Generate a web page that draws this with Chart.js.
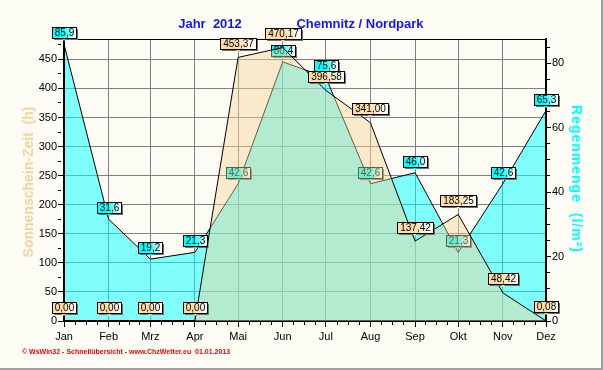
<!DOCTYPE html>
<html>
<head>
<meta charset="utf-8">
<script src="https://cdn.jsdelivr.net/npm/chart.js@4/dist/chart.umd.min.js"></script>
<style>
  html, body { margin: 0; padding: 0; background: #FCFBF4; }
  canvas { display: block; }
</style>
</head>
<body>
<canvas id="chart" width="603" height="370"></canvas>
<script>
// Data (2012, Chemnitz / Nordpark)
const YEAR = 2012;
const months = ['Jan', 'Feb', 'Mrz', 'Apr', 'Mai', 'Jun', 'Jul', 'Aug', 'Sep', 'Okt', 'Nov', 'Dez'];
const sunHours = [0.00, 0.00, 0.00, 0.00, 453.37, 470.17, 396.58, 341.00, 137.42, 183.25, 48.42, 0.08];
const rainMm = [85.9, 31.6, 19.2, 21.3, 42.6, 80.4, 75.6, 42.6, 46.0, 21.3, 42.6, 65.3];
const sunTicks = [0, 50, 100, 150, 200, 250, 300, 350, 400, 450];
const rainTicks = [0, 20, 40, 60, 80];

// x position of each month = day of year of the 1st
const monthDay = months.map((m, i) => (Date.UTC(YEAR, i, 1) - Date.UTC(YEAR, 0, 1)) / 86400000);

const FONT = '"Liberation Sans", Arial, sans-serif';
const RAIN = 0, SUN = 1;

Chart.defaults.font.family = FONT;
Chart.defaults.font.size = 11;
Chart.defaults.color = '#000';

function fmt(v, d) {
    return v.toFixed(d).replace('.', ',');
}

// value box with shadow and small pointer
function drawValueLabel(ctx, x, y, text, color, gap) {
    ctx.save();
    ctx.font = '10px ' + FONT;
    const w = Math.round(ctx.measureText(text).width + 5);
    const h = 11;
    const bx = Math.round(x - w / 2);
    const by = Math.round(y - gap - h);
    ctx.fillStyle = '#707070';
    ctx.fillRect(bx + 2, by + 2, w, h);
    const g = ctx.createLinearGradient(bx, 0, bx + w, 0);
    g.addColorStop(0, color);
    g.addColorStop(0.45, color);
    g.addColorStop(1, '#ffffff');
    ctx.fillStyle = color;
    ctx.beginPath();
    ctx.moveTo(bx + w / 2 - 3, by + h);
    ctx.lineTo(bx + w / 2, by + h + 3);
    ctx.lineTo(bx + w / 2 + 3, by + h);
    ctx.fill();
    ctx.fillStyle = g;
    ctx.fillRect(bx, by, w, h);
    ctx.strokeStyle = '#000';
    ctx.lineWidth = 1;
    ctx.strokeRect(bx + 0.5, by + 0.5, w, h);
    ctx.fillStyle = '#000';
    ctx.textAlign = 'center';
    ctx.textBaseline = 'middle';
    ctx.fillText(text, bx + w / 2 + 0.5, by + h / 2 + 1);
    ctx.restore();
}

function drawFrame(chart) {
    const ctx = chart.ctx, a = chart.chartArea;
    ctx.save();
    ctx.fillStyle = '#000';
    ctx.fillRect(a.left - 1, a.top, a.right - a.left + 2, 1);
    ctx.fillRect(a.left - 1, a.top, 2, a.bottom - a.top + 1);
    ctx.fillRect(a.right - 1, a.top, 2, a.bottom - a.top + 1);
    ctx.fillRect(a.left - 1, a.bottom - 1, a.right - a.left + 2, 2);
    ctx.restore();
}

const decorPlugin = {
    id: 'decor',
    beforeDraw(chart) {
        const ctx = chart.ctx;
        ctx.save();
        ctx.fillStyle = '#FCFBF4';
        ctx.fillRect(0, 0, chart.width, chart.height);
        ctx.fillStyle = '#A0A0A0';
        ctx.fillRect(chart.width - 2, 0, 2, chart.height);
        ctx.fillRect(0, chart.height - 2, chart.width, 2);
        ctx.restore();
    },
    afterDatasetDraw(chart, args) {
        const ctx = chart.ctx;
        const meta = chart.getDatasetMeta(args.index);
        if (args.index === RAIN) {
            drawFrame(chart);
            meta.data.forEach((p, i) => drawValueLabel(ctx, p.x, p.y, fmt(rainMm[i], 1), '#00FFFF', 6));
        } else {
            meta.data.forEach((p, i) => drawValueLabel(ctx, p.x, p.y, fmt(sunHours[i], 2), '#FFDCA4', 8.5));
        }
    },
    afterDraw(chart) {
        const ctx = chart.ctx;
        ctx.save();
        // title
        ctx.fillStyle = '#1414F0';
        ctx.font = 'bold 13px ' + FONT;
        ctx.textBaseline = 'middle';
        ctx.textAlign = 'center';
        ctx.fillText('Jahr  2012', 210, 24.5);
        ctx.fillText('Chemnitz / Nordpark', 360, 24.5);

        // axis titles
        ctx.font = 'bold 14px ' + FONT;
        ctx.save();
        ctx.translate(29, 182);
        ctx.rotate(-Math.PI / 2);
        ctx.fillStyle = '#F6D29C';
        ctx.fillText('Sonnenschein-Zeit  (h)', 0, 0);
        ctx.restore();

        ctx.save();
        ctx.translate(576, 179);
        ctx.rotate(Math.PI / 2);
        ctx.letterSpacing = '1px';
        ctx.fillStyle = '#00FFFF';
        ctx.fillText('Regenmenge  (l/m²)', 0, 0);
        ctx.restore();

        // footer
        ctx.fillStyle = '#F00000';
        ctx.font = 'bold 7px ' + FONT;
        ctx.textAlign = 'left';
        ctx.fillText('© WsWin32 - Schnellübersicht - www.ChzWetter.eu  01.01.2013', 22, 352);
        ctx.restore();
    }
};

const GRID = '#808080';

new Chart(document.getElementById('chart'), {
    type: 'line',
    data: {
        datasets: [
            {
                label: 'Regenmenge',
                data: months.map((m, i) => ({ x: monthDay[i], y: rainMm[i] })),
                yAxisID: 'y1',
                order: 1,
                borderColor: '#000',
                borderWidth: 1,
                backgroundColor: 'rgba(0, 255, 255, 0.5)',
                fill: 'origin',
                pointRadius: 0,
                tension: 0
            },
            {
                label: 'Sonnenschein-Zeit',
                data: months.map((m, i) => ({ x: monthDay[i], y: sunHours[i] })),
                yAxisID: 'y',
                order: 0,
                borderColor: '#000',
                borderWidth: 1,
                backgroundColor: 'rgba(247, 212, 151, 0.43)',
                fill: 'origin',
                pointRadius: 0,
                tension: 0
            }
        ]
    },
    options: {
        responsive: false,
        animation: false,
        layout: { padding: { top: 39, left: 0, right: 0, bottom: 0 } },
        plugins: {
            legend: { display: false },
            tooltip: { enabled: false }
        },
        scales: {
            x: {
                type: 'linear',
                min: monthDay[0],
                max: monthDay[11],
                afterFit: (s) => { s.height = 49; },
                afterBuildTicks: (s) => {
                    const t = [];
                    for (let i = 0; i < 11; i++) {
                        const len = monthDay[i + 1] - monthDay[i];
                        for (let k = 0; k < 4; k++) t.push({ value: monthDay[i] + k * len / 4 });
                    }
                    t.push({ value: monthDay[11] });
                    s.ticks = t;
                },
                ticks: {
                    autoSkip: false,
                    maxRotation: 0,
                    padding: 3,
                    callback: (v) => {
                        const i = monthDay.indexOf(v);
                        return i >= 0 ? months[i] : '';
                    }
                },
                grid: {
                    color: (c) => (c.tick && monthDay.indexOf(c.tick.value) > 0 && c.tick.value < monthDay[11]) ? GRID : 'rgba(0,0,0,0)',
                    borderDash: [4, 3],
                    tickLength: 6,
                    tickColor: '#000',
                    tickBorderDash: (c) => (c.tick && monthDay.indexOf(c.tick.value) >= 0) ? [] : [3, 20]
                },
                border: { color: '#000', width: 2 }
            },
            y: {
                position: 'left',
                min: 0,
                max: 485,
                afterFit: (s) => { s.width = 64; },
                ticks: {
                    stepSize: 25,
                    autoSkip: false,
                    includeBounds: false,
                    padding: 1,
                    callback: (v) => sunTicks.includes(v) ? v : ''
                },
                grid: {
                    color: (c) => (c.tick && c.tick.value > 0 && sunTicks.includes(c.tick.value)) ? GRID : 'rgba(0,0,0,0)',
                    borderDash: [4, 3],
                    tickLength: 6,
                    tickColor: '#000',
                    tickBorderDash: (c) => (c.tick && sunTicks.includes(c.tick.value)) ? [] : [3, 20]
                },
                border: { color: '#000', width: 2 }
            },
            y1: {
                position: 'right',
                min: 0,
                max: 87.5,
                afterFit: (s) => { s.width = 57; },
                ticks: {
                    stepSize: 5,
                    autoSkip: false,
                    includeBounds: false,
                    padding: 1,
                    callback: (v) => rainTicks.includes(v) ? v : ''
                },
                grid: {
                    drawOnChartArea: false,
                    tickLength: 5,
                    tickColor: '#000',
                    tickBorderDash: (c) => (c.tick && rainTicks.includes(c.tick.value)) ? [] : [3, 20]
                },
                border: { color: '#000', width: 2 }
            }
        }
    },
    plugins: [decorPlugin]
});
</script>
</body>
</html>
